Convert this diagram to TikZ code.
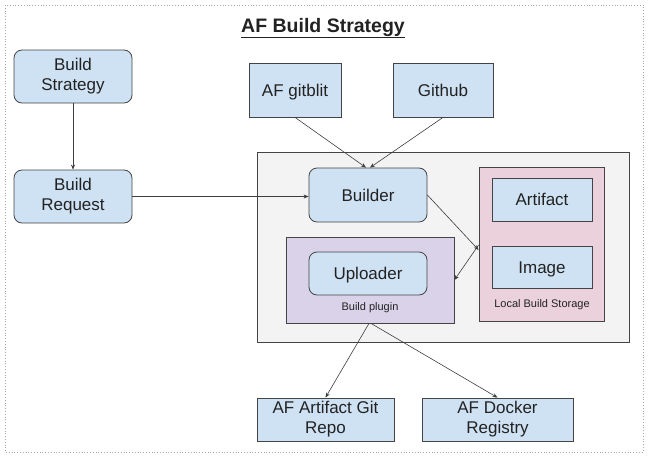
\documentclass[tikz,border=0pt]{standalone}
\usepackage{fontspec}
\setmainfont{Liberation Sans}
\usetikzlibrary{arrows.meta}
\definecolor{boxblue}{HTML}{CFE2F3}
\definecolor{boxgray}{HTML}{F3F3F3}
\definecolor{boxpurple}{HTML}{D9D2E9}
\definecolor{boxpink}{HTML}{EAD1DC}
\definecolor{edge}{HTML}{444444}
\definecolor{txt}{HTML}{222222}
\tikzset{
  base/.style={draw=edge, line width=0.8pt, inner sep=0pt, text=txt,
    font=\fontsize{17}{20}\selectfont},
  bluebox/.style={base, fill=boxblue},
  roundbox/.style={bluebox, rounded corners=8pt},
  oneline/.style={text height=12.2pt, text depth=0pt},
  twoline/.style={align=center},
  conn/.style={draw=edge!90!black, line width=0.6pt, -{Stealth[length=5pt,width=4pt]}},
  small/.style={text=txt, font=\fontsize{11}{13}\selectfont, inner sep=0pt}
}
\begin{document}
\begin{tikzpicture}[x=1pt,y=-1pt]
\useasboundingbox (0,0) rectangle (649,458);
\draw[gray!70, dotted, line width=0.8pt] (5,5) rectangle (643,452);
\node[text=txt, font=\fontsize{19.5}{22}\selectfont\bfseries, inner sep=0pt] (title) at (323,28) {\underline{AF Build Strategy}};

\node[roundbox, twoline, minimum width=118pt, minimum height=53pt] (strategy) at (73,76.5) {Build\\Strategy};
\node[roundbox, twoline, minimum width=118pt, minimum height=53pt] (request) at (73,196.5) {Build\\Request};
\node[bluebox, oneline, minimum width=92pt, minimum height=54pt] (gitblit) at (295,90) {AF gitblit};
\node[bluebox, oneline, minimum width=100pt, minimum height=54pt] (github) at (443,90) {Github};

\node[base, fill=boxgray, minimum width=372pt, minimum height=190pt] (container) at (443,247) {};
\node[roundbox, oneline, minimum width=118pt, minimum height=54pt] (builder) at (368,195) {Builder};
\node[base, fill=boxpurple, minimum width=168pt, minimum height=86pt] (plugin) at (370,280) {};
\node[roundbox, oneline, minimum width=118pt, minimum height=43pt] (uploader) at (368,273.5) {Uploader};
\node[small] (pluginlabel) at (370,308) {Build plugin};
\node[base, fill=boxpink, minimum width=125pt, minimum height=154pt] (storage) at (541.5,244) {};
\node[bluebox, oneline, minimum width=100pt, minimum height=43pt] (artifact) at (542,199.5) {Artifact};
\node[bluebox, oneline, minimum width=100pt, minimum height=42pt] (image) at (542,267) {Image};
\node[small] (storagelabel) at (542,305) {Local Build Storage};

\node[bluebox, twoline, minimum width=137pt, minimum height=43pt] (repo) at (325.5,419.5) {AF Artifact Git\\Repo};
\node[bluebox, twoline, minimum width=151pt, minimum height=43pt] (docker) at (497.5,419.5) {AF Docker\\Registry};

\draw[conn] (strategy.south) -- (request.north);
\draw[conn] (request.east) -- (request.east -| builder.west);
\draw[conn] (gitblit.south) -- ([xshift=-2pt]builder.north);
\draw[conn] (github.south) -- ([xshift=2pt]builder.north);
\draw[conn] (builder.east) -- ([yshift=-6pt]storage.west);
\draw[conn] ([yshift=-1pt]storage.west) -- (plugin.east);
\draw[conn] ([xshift=-1pt]plugin.south) -- (repo.north);
\draw[conn] ([xshift=1pt]plugin.south) -- (docker.north);
\end{tikzpicture}
\end{document}
